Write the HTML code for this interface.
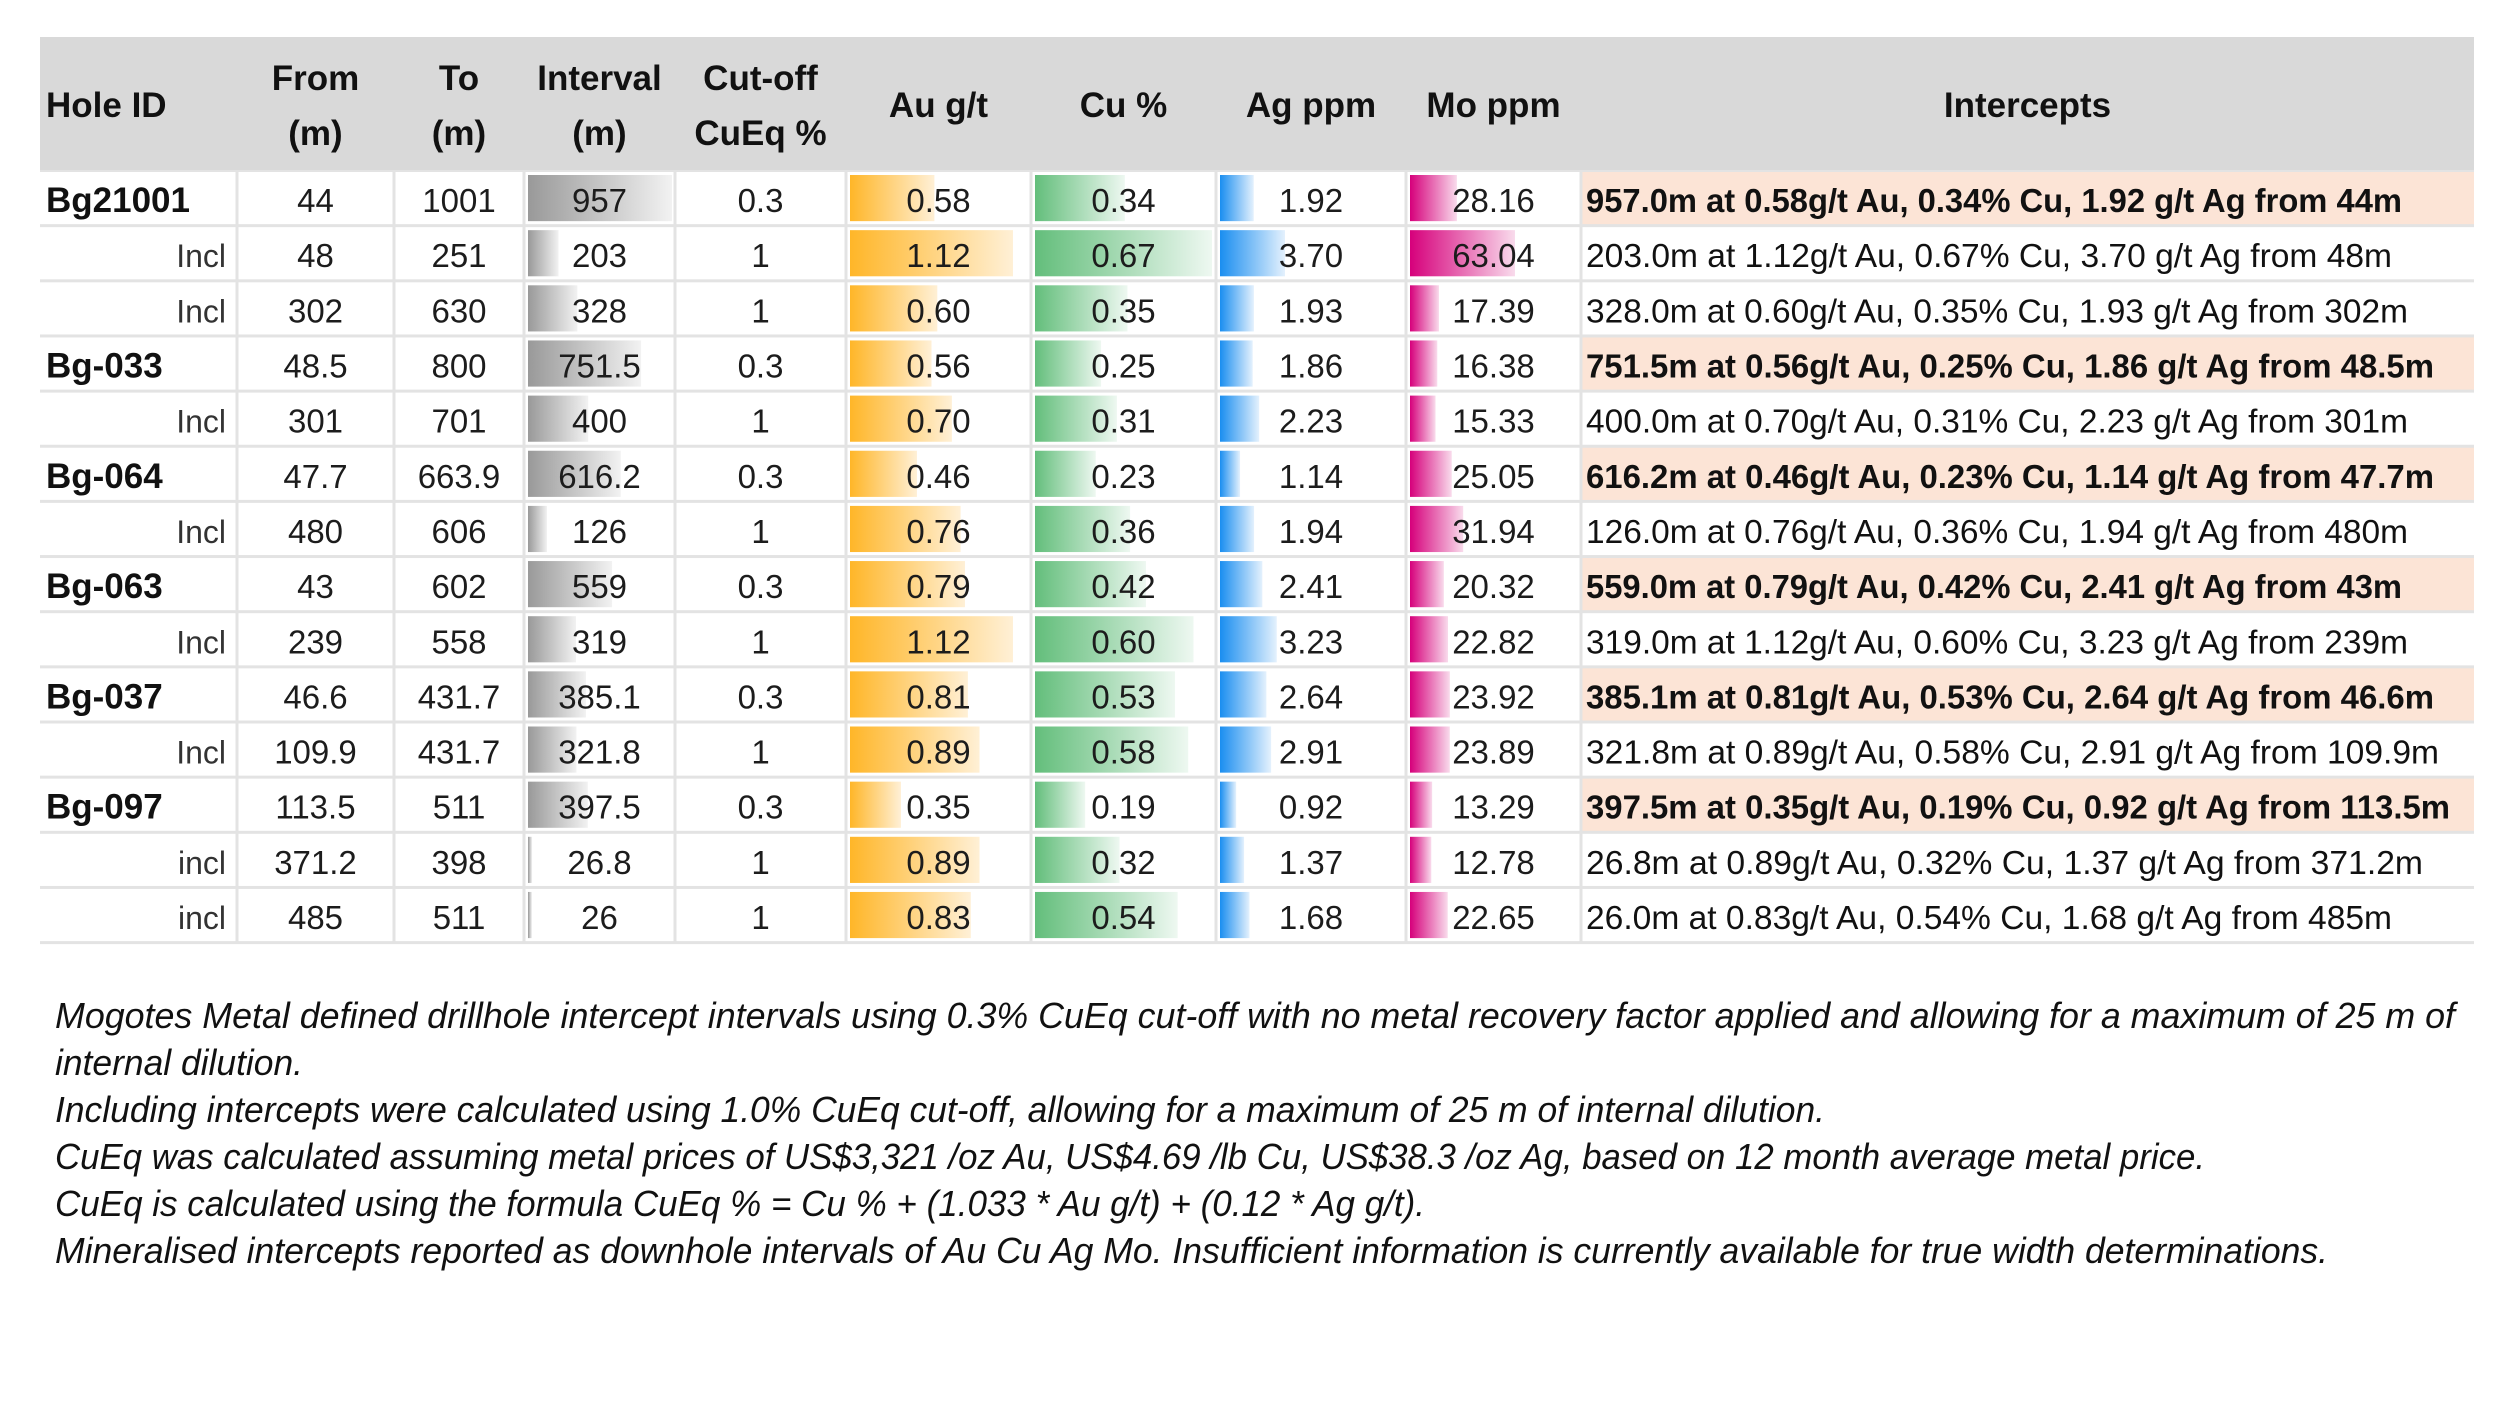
<!DOCTYPE html>
<html><head><meta charset="utf-8"><style>
html,body{margin:0;padding:0;background:#fff;}
svg{display:block;}
</style></head><body>
<svg id="s" width="2500" height="1406" xmlns="http://www.w3.org/2000/svg" font-family="Liberation Sans, sans-serif"></svg>
<script>
const holes=["Bg21001","Incl","Incl","Bg-033","Incl","Bg-064","Incl","Bg-063","Incl","Bg-037","Incl","Bg-097","incl","incl"];
const isMain=[1,0,0,1,0,1,0,1,0,1,0,1,0,0];
const fromM=["44","48","302","48.5","301","47.7","480","43","239","46.6","109.9","113.5","371.2","485"];
const toM=["1001","251","630","800","701","663.9","606","602","558","431.7","431.7","511","398","511"];
const intervalM=[957,203,328,751.5,400,616.2,126,559,319,385.1,321.8,397.5,26.8,26];
const cutoff=["0.3","1","1","0.3","1","0.3","1","0.3","1","0.3","1","0.3","1","1"];
const au=[0.58,1.12,0.60,0.56,0.70,0.46,0.76,0.79,1.12,0.81,0.89,0.35,0.89,0.83];
const cu=[0.34,0.67,0.35,0.25,0.31,0.23,0.36,0.42,0.60,0.53,0.58,0.19,0.32,0.54];
const ag=[1.92,3.70,1.93,1.86,2.23,1.14,1.94,2.41,3.23,2.64,2.91,0.92,1.37,1.68];
const mo=[28.16,63.04,17.39,16.38,15.33,25.05,31.94,20.32,22.82,23.92,23.89,13.29,12.78,22.65];
const auDec=2,cuDec=2,agDec=2,moDec=2;

const NS="http://www.w3.org/2000/svg";
const s=document.getElementById('s');
function el(tag,attrs,parent){const e=document.createElementNS(NS,tag);for(const k in attrs)e.setAttribute(k,attrs[k]);(parent||s).appendChild(e);return e;}

const defs=el('defs',{});
const grads={gray:['#999999','#f2f2f2'],gold:['#ffb628','#fff0d6'],green:['#63be7b','#eef8f1'],blue:['#1a8ef0','#e4f1fd'],pink:['#d6007b','#f9dbec']};
for(const g in grads){const lg=el('linearGradient',{id:'g_'+g,x1:'0',x2:'1',y1:'0',y2:'0'},defs);el('stop',{offset:'0','stop-color':grads[g][0]},lg);el('stop',{offset:'1','stop-color':grads[g][1]},lg);}

const cols=[40,237,394,524,675,846,1031,1216,1406,1581,2474];
const top0=172,rowH=55.15,nRows=holes.length;
const bottom=top0+rowH*nRows;
const bg=el('rect',{x:40,y:37,width:2434,height:bottom-37,fill:'#e3e3e3'});


const hdr=el('rect',{x:40,y:37,width:2434,height:133,fill:'#d9d9d9'});



const hdrs=[["Hole ID"],["From","(m)"],["To","(m)"],["Interval","(m)"],["Cut-off","CuEq %"],["Au g/t"],["Cu %"],["Ag ppm"],["Mo ppm"],["Intercepts"]];
hdrs.forEach((h,i)=>{
  const cx=i==0?46:(cols[i]+cols[i+1])/2;
  const anchor=i==0?'start':'middle';
  if(h.length==1){
    const t=el('text',{x:cx,y:117,'font-size':35,'font-weight':'bold','text-anchor':anchor,fill:'#111'});t.textContent=h[0];
    
    
  } else {
    h.forEach((line,j)=>{const t=el('text',{x:cx,y:90+j*55,'font-size':35,'font-weight':'bold','text-anchor':anchor,fill:'#111'});t.textContent=line;
      
      });
  }
});

const scaleInterval=v=>v*144/957;
const scaleAu=v=>v*163/1.12;
const scaleCu=v=>v*177/0.67;
const scaleAg=v=>v*65/3.70;
const scaleMo=v=>v*105/63.04;

function num(ci,y,txt,name){const t=el('text',{x:(cols[ci]+cols[ci+1])/2,y:y,'font-size':33,'text-anchor':'middle',fill:'#1c1c1c'});t.textContent=txt;
  
  return t;}
function bar(ci,yT,h,w,g,name){const r=el('rect',{x:cols[ci]+4,y:yT,width:Math.max(w,2),height:h,fill:'url(#g_'+g+')'});
  
  }

for(let i=0;i<nRows;i++){
  const yT=top0+i*rowH, h=rowH-3, yB=yT+h/2+14;
  for(let c=0;c<10;c++){
    const fill=(c==9&&isMain[i])?'#fce4d6':'#ffffff';
    const cell=el('rect',{x:cols[c]+(c?1.5:0),y:yT,width:cols[c+1]-cols[c]-(c?1.5:0)-(c<9?1.5:0),height:h,fill:fill});
    
    
  }
  const ht=el('text',isMain[i]?{x:46,y:yB,'font-size':35,'font-weight':'bold',fill:'#111'}:{x:226,y:yB,'font-size':32,'text-anchor':'end',fill:'#333'});
  ht.textContent=holes[i];
  
  
  num(1,yB,fromM[i],'from-value');
  num(2,yB,toM[i],'to-value');
  bar(3,yT+3,h-6,scaleInterval(intervalM[i]),'gray','interval-bar');
  num(3,yB,String(intervalM[i]),'interval-value');
  num(4,yB,cutoff[i],'cutoff-value');
  bar(5,yT+3,h-6,scaleAu(au[i]),'gold','au-bar');
  num(5,yB,au[i].toFixed(auDec),'au-value');
  bar(6,yT+3,h-6,scaleCu(cu[i]),'green','cu-bar');
  num(6,yB,cu[i].toFixed(cuDec),'cu-value');
  bar(7,yT+3,h-6,scaleAg(ag[i]),'blue','ag-bar');
  num(7,yB,ag[i].toFixed(agDec),'ag-value');
  bar(8,yT+3,h-6,scaleMo(mo[i]),'pink','mo-bar');
  num(8,yB,mo[i].toFixed(moDec),'mo-value');
  const str=intervalM[i].toFixed(1)+'m at '+au[i].toFixed(2)+'g/t Au, '+cu[i].toFixed(2)+'% Cu, '+ag[i].toFixed(2)+' g/t Ag from '+fromM[i]+'m';
  const pc=isMain[i]?15.7:15.5;
  const it=el('text',{x:1586,y:yB,'font-size':33,'font-weight':isMain[i]?'bold':'normal',fill:'#111',textLength:(str.length*pc).toFixed(0),lengthAdjust:'spacingAndGlyphs'});
  it.textContent=str;
  
  
}

const notes=[
 ["Mogotes Metal defined drillhole intercept intervals using 0.3% CuEq cut-off with no metal recovery factor applied and allowing for a maximum of 25 m of",2400],
 ["internal dilution.",248],
 ["Including intercepts were calculated using 1.0% CuEq cut-off, allowing for a maximum of 25 m of internal dilution.",1770],
 ["CuEq was calculated assuming metal prices of US$3,321 /oz Au, US$4.69 /lb Cu, US$38.3 /oz Ag, based on 12 month average metal price.",2150],
 ["CuEq is calculated using the formula CuEq % = Cu % + (1.033 * Au g/t) + (0.12 * Ag g/t).",1370],
 ["Mineralised intercepts reported as downhole intervals of Au Cu Ag Mo. Insufficient information is currently available for true width determinations.",2273]
];
notes.forEach((n,i)=>{
  const t=el('text',{x:55,y:1028+i*47,'font-size':36,'font-style':'italic',fill:'#111',textLength:n[1],lengthAdjust:'spacingAndGlyphs'});
  t.textContent=n[0];
  
  
});
</script>
</body></html>
